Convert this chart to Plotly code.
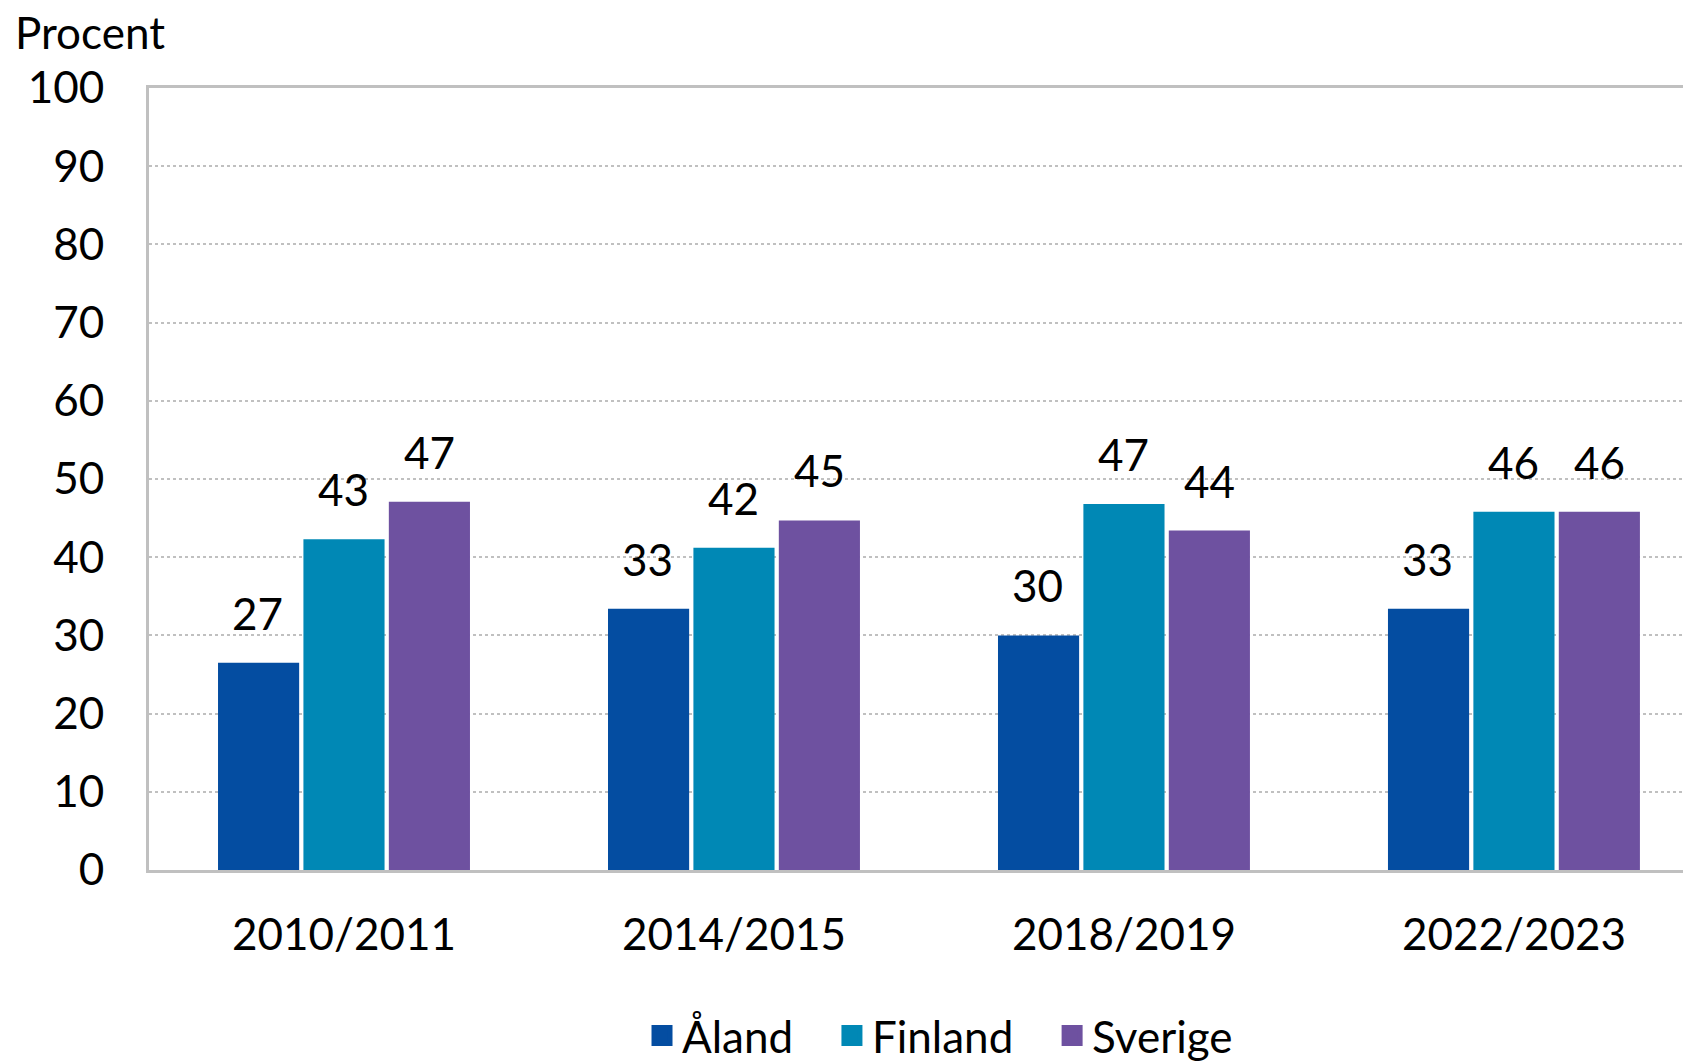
import plotly.graph_objects as go

categories = ["2010/2011", "2014/2015", "2018/2019", "2022/2023"]
series_names = ["Åland", "Finland", "Sverige"]
aland = [26.5, 33.4, 30.0, 33.4]
finland = [42.3, 41.2, 46.8, 45.8]
sverige = [47.1, 44.7, 43.4, 45.8]
aland_labels = ["27", "33", "30", "33"]
finland_labels = ["43", "42", "47", "46"]
sverige_labels = ["47", "45", "44", "46"]
y_ticks = [0, 10, 20, 30, 40, 50, 60, 70, 80, 90, 100]

colors = ["#044DA1", "#0088B5", "#6E51A0"]
FONT = "Lato, 'Open Sans', sans-serif"
FS = 44

values = [aland, finland, sverige]
labels = [aland_labels, finland_labels, sverige_labels]

# page has an 8px body margin, so the figure is sized to fit the window
W, H = 1683, 1053

fig = go.Figure()
for name, vals, col in zip(series_names, values, colors):
    fig.add_trace(go.Bar(
        x=categories, y=vals, name=name, marker=dict(color=col, line=dict(width=0)),
        showlegend=False, hoverinfo="skip",
    ))
    fig.add_trace(go.Scatter(
        x=[None], y=[None], mode="markers", name=name + "\u00a0\u00a0\u00a0",
        marker=dict(symbol="square", size=27, color=col, line=dict(color=col, width=5)),
    ))

# data labels above the bars (offset per series to sit over each grouped bar)
slot_px = 86
for i, (vals, labs) in enumerate(zip(values, labels)):
    for cat, v, t in zip(categories, vals, labs):
        fig.add_annotation(
            x=cat, y=v, text=t, showarrow=False, xanchor="center", yanchor="bottom",
            xshift=(i - 1) * slot_px, yshift=22,
            font=dict(family=FONT, size=FS, color="#000000"),
        )

fig.update_layout(
    width=W, height=H,
    margin=dict(l=141, r=0, t=80, b=191, autoexpand=False),
    paper_bgcolor="white", plot_bgcolor="white",
    barmode="group", bargap=0.343, bargroupgap=0.05,
    font=dict(family=FONT, size=FS, color="#000000"),
    title=dict(text="Procent", x=7 / W, xanchor="left", xref="container",
               y=1 - 26 / H, yanchor="middle", yref="container",
               font=dict(family=FONT, size=FS, color="#000000")),
    legend=dict(orientation="h", x=0.524, xanchor="center", y=-0.212, yanchor="middle",
                font=dict(family=FONT, size=FS), itemsizing="trace"),
    showlegend=True,
)
fig.update_xaxes(
    type="category", range=[-0.5, 3.454], showgrid=False, automargin=False,
    showline=True, linecolor="#C0C0C0", linewidth=3, mirror=True,
    ticks="", ticklabelstandoff=24, tickfont=dict(family=FONT, size=FS),
)
fig.update_yaxes(
    range=[0, 100], tickvals=y_ticks, showgrid=True, gridcolor="#C0C0C0", gridwidth=2,
    griddash="dot", zeroline=False, showline=True, linecolor="#C0C0C0", linewidth=3,
    automargin=False,
    ticks="", ticklabelstandoff=33, tickfont=dict(family=FONT, size=FS),
)

fig.write_html("out.html")
